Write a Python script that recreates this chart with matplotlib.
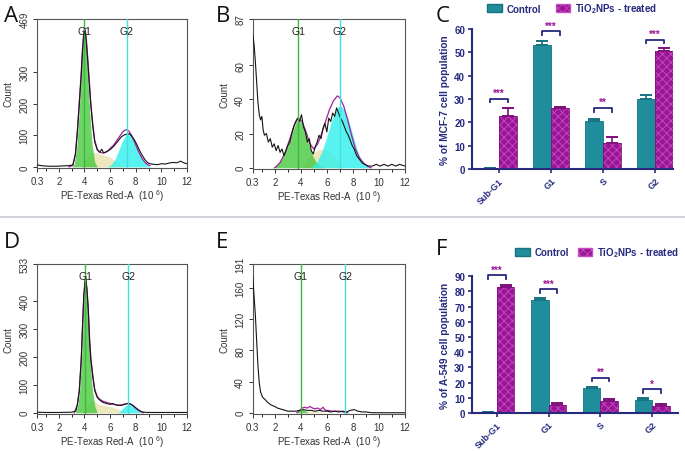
"""Cell-cycle histograms (A, B, D, E) and phase distribution bars (C, F)"""
import matplotlib.pyplot as plt
from matplotlib.lines import Line2D
from matplotlib.patches import Patch

# ---------------- histogram data (x in 10^6 units, y = count) ----------------
a_raw_x = [0.3, 0.8, 1.3, 1.8, 2.3, 2.8, 3.1, 3.3, 3.45, 3.6, 3.75, 3.85, 3.95, 4.05, 4.15,
           4.25, 4.35, 4.5, 4.65, 4.8, 5.0, 5.2, 5.35, 5.5, 5.7, 5.9, 6.1, 6.3, 6.5, 6.7, 6.9,
           7.1, 7.3, 7.5, 7.7, 7.9, 8.1, 8.3, 8.5, 8.7, 8.9, 9.1, 9.4, 9.7, 10.0, 10.3, 10.6,
           10.9, 11.2, 11.5, 11.8, 12.0]
a_raw_y = [6, 3, 2, 2, 3, 4, 6, 40, 110, 200, 290, 365, 420, 430, 395,
           340, 280, 195, 130, 80, 54, 46, 56, 44, 47, 52, 58, 66, 76, 86, 96,
           101, 104, 105, 97, 85, 70, 52, 37, 24, 14, 10, 8, 7, 10, 9, 12,
           14, 13, 18, 12, 10]
a_fit_x = [2.8, 3.1, 3.3, 3.45, 3.6, 3.75, 3.85, 3.95, 4.05, 4.15, 4.25, 4.35, 4.5, 4.65, 4.8,
           5.0, 5.2, 5.4, 5.6, 5.8, 6.0, 6.3, 6.6, 6.9, 7.1, 7.3, 7.5, 7.7, 7.9, 8.1, 8.3,
           8.5, 8.7, 8.9, 9.1]
a_fit_y = [0, 5, 42, 115, 205, 300, 375, 430, 440, 405, 350, 290, 200, 135, 85,
           56, 46, 44, 46, 50, 58, 70, 88, 106, 115, 118, 112, 98, 80, 60, 42,
           27, 15, 8, 4]
a_g1_x = [3.0, 3.2, 3.4, 3.6, 3.75, 3.9, 4.0, 4.1, 4.25, 4.4, 4.6, 4.8, 5.0]
a_g1_y = [0, 8, 60, 180, 300, 400, 425, 400, 300, 180, 70, 15, 0]
a_s_x = [3.8, 4.1, 4.4, 4.7, 5.0, 5.3, 5.6, 5.9, 6.2, 6.5, 6.8, 7.1]
a_s_y = [0, 20, 40, 46, 44, 40, 37, 33, 25, 15, 6, 0]
a_g2_x = [5.8, 6.1, 6.4, 6.7, 7.0, 7.2, 7.4, 7.6, 7.8, 8.0, 8.3, 8.6, 8.9, 9.2]
a_g2_y = [0, 8, 25, 55, 85, 100, 106, 102, 90, 72, 42, 18, 5, 0]

b_raw_x = [0.3, 0.4, 0.5, 0.6, 0.7, 0.8, 0.9, 1.0, 1.1, 1.2, 1.35, 1.5, 1.65, 1.8, 1.95, 2.1,
           2.25, 2.4, 2.55, 2.7, 2.85, 3.0, 3.15, 3.3, 3.45, 3.6, 3.75, 3.9, 4.05, 4.2, 4.35,
           4.5, 4.65, 4.8, 4.95, 5.1, 5.25, 5.4, 5.55, 5.7, 5.85, 6.0, 6.15, 6.3, 6.45, 6.6,
           6.75, 6.9, 7.05, 7.2, 7.35, 7.5, 7.65, 7.8, 7.95, 8.1, 8.3, 8.5, 8.7, 8.9, 9.2,
           9.5, 9.8, 10.1, 10.4, 10.7, 11.0, 11.3, 11.6, 12.0]
b_raw_y = [78, 72, 62, 50, 38, 31, 28, 30, 22, 19, 20, 15, 17, 12, 14, 10,
           13, 9, 11, 7, 10, 13, 15, 20, 24, 27, 29, 27, 31, 24, 21,
           15, 17, 10, 8, 12, 15, 19, 17, 23, 26, 21, 29, 27, 32, 30,
           35, 32, 29, 27, 24, 21, 19, 16, 13, 11, 7, 5, 3, 2, 1,
           1, 2, 1, 2, 1, 2, 1, 2, 1]
b_fit_x = [2.0, 2.4, 2.8, 3.2, 3.5, 3.8, 4.1, 4.4, 4.7, 5.0, 5.3, 5.6, 5.9, 6.2, 6.5, 6.8,
           7.0, 7.3, 7.6, 7.9, 8.2, 8.5, 8.8, 9.1, 9.4]
b_fit_y = [0, 3, 9, 18, 25, 29, 27, 21, 14, 11, 14, 20, 27, 34, 39, 42,
           41, 36, 28, 19, 11, 6, 3, 1, 0]
b_g1_x = [1.8, 2.2, 2.6, 3.0, 3.3, 3.6, 3.8, 4.0, 4.3, 4.6, 4.9, 5.2, 5.5, 5.8]
b_g1_y = [0, 2, 6, 13, 20, 26, 28, 27, 22, 14, 7, 3, 1, 0]
b_s_x = [4.0, 4.4, 4.8, 5.2, 5.6, 6.0, 6.4, 6.8, 7.2]
b_s_y = [0, 4, 8, 10, 11, 11, 8, 4, 0]
b_g2_x = [4.8, 5.2, 5.6, 6.0, 6.3, 6.6, 6.9, 7.1, 7.4, 7.7, 8.0, 8.3, 8.6, 8.9, 9.3]
b_g2_y = [0, 3, 9, 18, 26, 32, 36, 36, 33, 27, 19, 11, 5, 2, 0]

d_raw_x = [0.3, 1.0, 2.0, 3.0, 3.33, 3.45, 3.6, 3.75, 3.85, 3.95, 4.05, 4.1, 4.2, 4.3, 4.4,
           4.5, 4.65, 4.8, 5.0, 5.2, 5.4, 5.6, 5.8, 6.0, 6.2, 6.4, 6.6, 6.8, 7.0, 7.2, 7.4,
           7.6, 7.8, 8.0, 8.2, 8.4, 8.6, 9.0, 9.5, 10.0, 10.5, 11.0, 11.5, 12.0]
d_raw_y = [2, 1, 1, 2, 6, 30, 80, 190, 310, 420, 475, 485, 440, 370, 260,
           190, 130, 80, 55, 45, 38, 35, 32, 30, 33, 29, 27, 26, 28, 31, 33,
           31, 26, 18, 11, 5, 2, 1, 1, 1, 1, 1, 1, 1]
d_fit_x = [3.2, 3.45, 3.6, 3.75, 3.85, 3.95, 4.05, 4.1, 4.2, 4.3, 4.4, 4.5, 4.65, 4.8, 5.0,
           5.2, 5.5, 5.8, 6.1, 6.4, 6.7, 7.0, 7.3, 7.5, 7.7, 7.9, 8.1, 8.3, 8.6]
d_fit_y = [0, 28, 78, 188, 305, 415, 470, 480, 440, 372, 265, 195, 135, 85, 58,
           48, 40, 36, 32, 29, 27, 29, 33, 33, 28, 20, 12, 6, 0]
d_g1_x = [3.3, 3.5, 3.65, 3.8, 3.95, 4.05, 4.15, 4.3, 4.45, 4.6, 4.8, 5.0]
d_g1_y = [0, 30, 90, 220, 400, 470, 450, 330, 190, 90, 25, 0]
d_s_x = [3.9, 4.2, 4.5, 4.8, 5.1, 5.4, 5.7, 6.0, 6.3, 6.6, 6.9, 7.2]
d_s_y = [0, 25, 45, 40, 30, 27, 25, 22, 18, 13, 7, 0]
d_g2_x = [6.6, 6.8, 7.0, 7.2, 7.4, 7.6, 7.8, 8.0, 8.2, 8.4, 8.6]
d_g2_y = [0, 6, 16, 25, 30, 28, 22, 14, 7, 2, 0]

e_raw_x = [0.3, 0.4, 0.5, 0.6, 0.7, 0.8, 0.9, 1.0, 1.1, 1.25, 1.4, 1.55, 1.7, 1.85, 2.0,
           2.2, 2.4, 2.6, 2.8, 3.0, 3.3, 3.6, 3.9, 4.2, 4.5, 4.8, 5.1, 5.4, 5.7, 6.0, 6.3,
           6.6, 6.9, 7.2, 7.5, 7.8, 8.1, 8.4, 8.7, 9.0, 9.5, 10.0, 10.5, 11.0, 11.5, 12.0]
e_raw_y = [174, 150, 125, 92, 60, 38, 27, 22, 19, 17, 14, 12, 10, 9, 8,
           6, 5, 4, 3, 2, 2, 2, 3, 4, 3, 3, 2, 3, 2, 2, 1,
           2, 1, 2, 1, 3, 4, 2, 1, 1, 0, 0, 0, 0, 0, 0]
e_fit_x = [3.7, 3.9, 4.1, 4.3, 4.5, 4.7, 4.9, 5.1, 5.3, 5.5, 5.7, 5.9, 6.1, 6.4, 6.7, 7.0,
           7.3, 7.6]
e_fit_y = [0, 3, 6, 7, 6, 8, 6, 5, 6, 4, 7, 3, 3, 2, 2, 2, 1, 0]
e_g1_x = [3.6, 3.8, 4.0, 4.2, 4.4, 4.6]
e_g1_y = [0, 2, 5, 4, 2, 0]
e_s_x = [4.0, 4.6, 5.2, 5.8]
e_s_y = [0, 2, 2, 0]
e_g2_x = [7.0, 7.4, 7.8]
e_g2_y = [0, 1, 0]

# gate positions and y-axis ticks of each histogram
a_gates = (4.0, 7.3)
b_gates = (3.8, 7.0)
d_gates = (4.05, 7.4)
e_gates = (4.0, 7.4)
a_yticks = [0, 100, 200, 300, 469]
b_yticks = [0, 20, 40, 60, 87]
d_yticks = [0, 100, 200, 300, 400, 533]
e_yticks = [0, 40, 80, 120, 160, 191]
x_ticks = [0.3, 2, 4, 6, 8, 10, 12]
x_ticklabels = ['0.3', '2', '4', '6', '8', '10', '12']

# ---------------- bar chart data ----------------
phases = ['Sub-G1', 'G1', 'S', 'G2']
mcf7_control = [0.4, 53.2, 20.6, 29.9]
mcf7_control_err = [0.2, 1.8, 1.0, 1.8]
mcf7_treated = [22.6, 26.1, 11.1, 50.5]
mcf7_treated_err = [3.4, 0.5, 2.5, 1.5]
mcf7_stars = ['***', '***', '**', '***']
mcf7_bracket = [30.0, 59.0, 26.1, 55.4]

a549_control = [0.8, 74.5, 16.5, 8.8]
a549_control_err = [0.2, 1.0, 0.8, 1.2]
a549_treated = [82.5, 5.2, 8.1, 4.8]
a549_treated_err = [1.5, 1.4, 1.0, 1.3]
a549_stars = ['***', '***', '**', '*']
a549_bracket = [90.6, 81.3, 23.1, 15.5]

plt.rcParams['font.family'] = ['Liberation Sans', 'DejaVu Sans']
plt.rcParams['mathtext.fontset'] = 'custom'
plt.rcParams['mathtext.rm'] = 'Liberation Sans'
plt.rcParams['mathtext.bf'] = 'Liberation Sans:bold'
plt.rcParams['hatch.linewidth'] = 0.6

NAVY = '#252a7e'
TEAL = '#1f8d9b'
MAGENTA = '#9a1596'


def draw_hist(ax, raw, fit, g1, s, g2, gates, yticks):
    ax.fill_between(s[0], s[1], color='#e6e0a6', alpha=0.75, lw=0, zorder=1)
    ax.fill_between(g1[0], g1[1], color='#47c83f', alpha=0.8, lw=0, zorder=2)
    ax.fill_between(g2[0], g2[1], color='#2ef0ee', alpha=0.8, lw=0, zorder=2)
    ax.plot(fit[0], fit[1], color='#a3209e', lw=0.9, zorder=3)
    ax.plot(raw[0], raw[1], color='#151515', lw=0.8, zorder=4)
    ax.axvline(gates[0], color='#3cb83c', lw=1.0, zorder=5)
    ax.axvline(gates[1], color='#3fe0e0', lw=1.0, zorder=5)
    for gx, name in zip(gates, ['G1', 'G2']):
        ax.text(gx, 0.92, name, transform=ax.get_xaxis_transform(), ha='center',
                va='center', fontsize=7.5, color='#222222', zorder=6)
    ax.set_xlim(0.3, 12)
    ax.set_ylim(-yticks[-1] * 0.008, yticks[-1])
    ax.set_xticks(x_ticks)
    ax.set_xticklabels(x_ticklabels)
    ax.set_xticks([1, 3, 5, 7, 9, 11], minor=True)
    ax.set_yticks(yticks)
    ax.set_yticklabels([str(t) for t in yticks], rotation=90, va='center')
    ax.tick_params(labelsize=7, colors='#333333', length=3, width=0.7, pad=2.5)
    ax.tick_params(which='minor', length=2, width=0.6)
    for sp in ax.spines.values():
        sp.set_color('#555555')
        sp.set_linewidth(0.8)
    ax.set_ylabel('Count', fontsize=7, color='#333333', labelpad=4)
    ax.set_xlabel(r'PE-Texas Red-A  (10 $^{6}$)', fontsize=7, color='#333333', labelpad=1)


def draw_bars(ax, control, control_err, treated, treated_err, stars, bracket, ymax, step,
              ylabel, xlim, legend_xy, colspace):
    w = 0.34
    xs = list(range(len(phases)))
    xc = [x - w / 2 for x in xs]
    xt = [x + w / 2 for x in xs]
    ax.bar(xc, control, w, color=TEAL, edgecolor='#177380', lw=0.6, zorder=2)
    ax.bar(xt, treated, w, color=MAGENTA, edgecolor='#c44ec2', hatch='xxxx', lw=0.0,
           zorder=2)
    ax.bar(xt, treated, w, color='none', edgecolor='#7e0f7b', lw=0.6, zorder=3)
    ax.errorbar(xc, control, yerr=[[0] * 4, control_err], fmt='none', ecolor='#177380',
                elinewidth=1.2, capsize=4, capthick=1.4, zorder=1)
    ax.errorbar(xt, treated, yerr=[[0] * 4, treated_err], fmt='none', ecolor='#7e0f7b',
                elinewidth=1.2, capsize=4, capthick=1.4, zorder=1)
    tick_h = ymax * 0.025
    for x0, x1, yb, st in zip(xc, xt, bracket, stars):
        ax.plot([x0, x0, x1, x1], [yb - tick_h, yb, yb, yb - tick_h], color=NAVY,
                lw=1.3, clip_on=False, zorder=4)
        ax.text((x0 + x1) / 2, yb + ymax * 0.005, st, ha='center', va='bottom',
                fontsize=7, color=MAGENTA, fontweight='bold', clip_on=False)
    ax.set_xlim(*xlim)
    ax.set_ylim(0, ymax)
    ax.set_yticks(range(0, ymax + 1, step))
    ax.set_xticks(xs)
    ax.set_xticklabels(phases, rotation=45, ha='right', rotation_mode='anchor')
    for sp in ['top', 'right']:
        ax.spines[sp].set_visible(False)
    for sp in ['left', 'bottom']:
        ax.spines[sp].set_color(NAVY)
        ax.spines[sp].set_linewidth(1.5)
    ax.tick_params(colors=NAVY, width=1.2, length=3)
    ax.tick_params(axis='y', labelsize=7, pad=2)
    ax.tick_params(axis='x', labelsize=6.5, pad=2)
    for lab in ax.get_xticklabels() + ax.get_yticklabels():
        lab.set_fontweight('bold')
    ax.set_ylabel(ylabel, fontsize=7.3, color=NAVY, fontweight='bold', labelpad=3)
    handles = [Patch(facecolor=TEAL, edgecolor='#177380'),
               Patch(facecolor=MAGENTA, edgecolor='#c44ec2', hatch='xxxx')]
    ax.legend(handles, ['Control', r'TiO$_{\mathbf{2}}$NPs - treated'], ncol=2,
              loc='center', bbox_to_anchor=legend_xy, frameon=False,
              prop={'weight': 'bold', 'size': 7}, labelcolor=NAVY, handlelength=1.5,
              handleheight=0.9, columnspacing=colspace, handletextpad=0.5,
              borderpad=0, borderaxespad=0)


fig = plt.figure(figsize=(6.85, 4.52), dpi=100)

ax_a = fig.add_axes([0.054, 0.626, 0.219, 0.330])
ax_b = fig.add_axes([0.369, 0.624, 0.222, 0.332])
ax_d = fig.add_axes([0.054, 0.082, 0.219, 0.332])
ax_e = fig.add_axes([0.369, 0.082, 0.222, 0.332])
ax_c = fig.add_axes([0.689, 0.624, 0.293, 0.310])
ax_f = fig.add_axes([0.689, 0.084, 0.301, 0.303])

draw_hist(ax_a, (a_raw_x, a_raw_y), (a_fit_x, a_fit_y), (a_g1_x, a_g1_y), (a_s_x, a_s_y),
          (a_g2_x, a_g2_y), a_gates, a_yticks)
draw_hist(ax_b, (b_raw_x, b_raw_y), (b_fit_x, b_fit_y), (b_g1_x, b_g1_y), (b_s_x, b_s_y),
          (b_g2_x, b_g2_y), b_gates, b_yticks)
draw_hist(ax_d, (d_raw_x, d_raw_y), (d_fit_x, d_fit_y), (d_g1_x, d_g1_y), (d_s_x, d_s_y),
          (d_g2_x, d_g2_y), d_gates, d_yticks)
draw_hist(ax_e, (e_raw_x, e_raw_y), (e_fit_x, e_fit_y), (e_g1_x, e_g1_y), (e_s_x, e_s_y),
          (e_g2_x, e_g2_y), e_gates, e_yticks)

draw_bars(ax_c, mcf7_control, mcf7_control_err, mcf7_treated, mcf7_treated_err,
          mcf7_stars, mcf7_bracket, 60, 10, '% of MCF-7 cell population', (-0.52, 3.34),
          (0.5, 1.145), 1.5)
draw_bars(ax_f, a549_control, a549_control_err, a549_treated, a549_treated_err,
          a549_stars, a549_bracket, 90, 10, '% of A-549 cell population', (-0.48, 3.5),
          (0.607, 1.175), 0.9)

# panel letters
for letter, x, y in [('A', 4, 17), ('B', 216, 17), ('C', 436, 17),
                     ('D', 4, 243), ('E', 216, 243), ('F', 436, 250)]:
    fig.text(x / 685, 1 - y / 452, letter, fontsize=16, family='Open Sans',
             va='center', ha='left', color='#111111')

# separator between the two cell lines
fig.add_artist(Line2D([0, 1], [1 - 218 / 452] * 2, color='#d2d2da', lw=1.5))

plt.savefig('out.png', dpi=100)
